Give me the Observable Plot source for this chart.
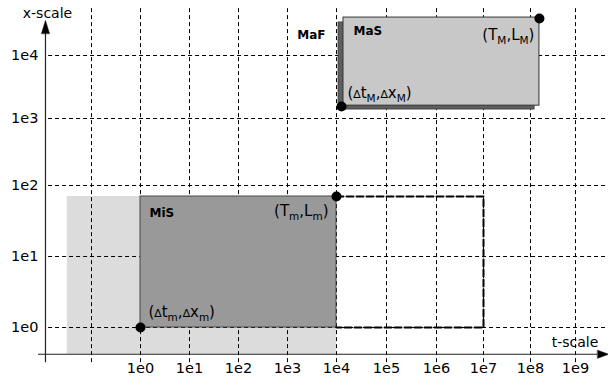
<!DOCTYPE html>
<html><head><meta charset="utf-8">
<script src="https://cdn.jsdelivr.net/npm/d3@7"></script>
<script src="https://cdn.jsdelivr.net/npm/@observablehq/plot@0.6"></script>
<style>body{margin:0;background:#fff} svg{display:block}</style>
</head><body><div id="chart"></div>
<script>
// ---- tick values / labels ----
const xTicks = [1e0, 1e1, 1e2, 1e3, 1e4, 1e5, 1e6, 1e7, 1e8, 1e9];
const xTickLabels = ["1e0","1e1","1e2","1e3","1e4","1e5","1e6","1e7","1e8","1e9"];
const xGrid = [1e-1, 1e0, 1e1, 1e2, 1e3, 1e4, 1e5, 1e6, 1e7, 1e8, 1e9];
const yTicks = [1e0, 1e1, 1e2, 1e3, 1e4];
const yTickLabels = ["1e0","1e1","1e2","1e3","1e4"];

// ---- axis positions (data units) ----
const tOrigin = 0.0115;   // where the x-scale axis crosses the t-scale
const xOrigin = 0.42;     // where the t-scale axis crosses the x-scale
const tAxisStart = 0.0083, tArrowBase = 3.1e9, tArrowTip = 4.6e9;
const xAxisStart = 0.32,  xArrowBase = 22400, xArrowTip = 36000;
const tGridStart = 0.0133, tGridEnd = 5.4e9;
const xGridStart = 0.32,   xGridEnd = 55700;

// ---- regions (t-range, x-range) ----
const zone   = [{t1: 0.032, t2: 1e4,   x1: xOrigin, x2: 70}];
const miS    = [{t1: 1,     t2: 1e4,   x1: 1,       x2: 70}];
const maF    = [{t1: 11000, t2: 1.23e8, x1: 1390,   x2: 33400}];
const maS    = [{t1: 13800, t2: 1.58e8, x1: 1600,   x2: 40000}];
const dashedT = [1e4, 1e7, 1e7, 1e4];
const dashedX = [70, 70, 1, 1];

// ---- characteristic points ----
const pointsT = [1, 1e4, 12600, 1.58e8];
const pointsX = [1, 70, 1550, 38700];

// ---- labels ----
const boxLabels = [
  {t: 11000, x: 33400, text: "MaF", anchor: "end",   dx: -13, dy: 13},
  {t: 13800, x: 40000, text: "MaS", anchor: "start", dx: 10,  dy: 14},
  {t: 1,     x: 70,    text: "MiS", anchor: "start", dx: 9,   dy: 17}
];
const pointLabels = [
  {t: 1.58e8, x: 40000, text: "(T_M,L_M)",   anchor: "end",   dx: -5, dy: 18},
  {t: 13800,  x: 1600,  text: "(∆t_M,∆x_M)", anchor: "start", dx: 4,  dy: -12},
  {t: 1e4,    x: 70,    text: "(T_m,L_m)",   anchor: "end",   dx: -8, dy: 15},
  {t: 1,      x: 1,     text: "(∆t_m,∆x_m)", anchor: "start", dx: 8,  dy: -15}
];

const gridDash = "4,3";
const spike = {draw(ctx, l, r) { ctx.moveTo(-r, 0); ctx.lineTo(0, -l); ctx.lineTo(r, 0); ctx.closePath(); }};

const chart = Plot.plot({
  width: 608, height: 379, margin: 0,
  style: {fontFamily: "DejaVu Sans", background: "white", overflow: "visible"},
  x: {type: "log", domain: xGrid, range: [91, 140, 189, 238, 287, 336, 386, 436, 483, 530, 575], axis: null},
  y: {type: "log", domain: yTicks, range: [327, 256, 185, 118, 55], axis: null},
  marks: [
    Plot.rect(zone, {x1: "t1", x2: "t2", y1: "x1", y2: "x2", fill: "#dcdcdc"}),
    // grid
    Plot.ruleY(yTicks, {y: d => d, x1: () => tGridStart, x2: () => tGridEnd, stroke: "black", strokeWidth: 1, strokeDasharray: gridDash}),
    Plot.ruleX(xGrid, {x: d => d, y1: () => xGridStart, y2: () => xGridEnd, stroke: "black", strokeWidth: 1, strokeDasharray: gridDash}),
    // regions
    Plot.rect(miS, {x1: "t1", x2: "t2", y1: "x1", y2: "x2", fill: "#999999", stroke: "#4a4a4a", strokeWidth: 1}),
    Plot.line(dashedT.map((t, i) => [t, dashedX[i]]), {x: d => d[0], y: d => d[1], stroke: "black", strokeWidth: 2, strokeDasharray: "7,3"}),
    Plot.rect(maF, {x1: "t1", x2: "t2", y1: "x1", y2: "x2", fill: "#5e5e5e", stroke: "#444", strokeWidth: 1}),
    Plot.rect(maS, {x1: "t1", x2: "t2", y1: "x1", y2: "x2", fill: "#c8c8c8", stroke: "#333", strokeWidth: 1}),
    // points
    Plot.dot(pointsT.map((t, i) => [t, pointsX[i]]), {x: d => d[0], y: d => d[1], r: 5, fill: "black"}),
    // labels
    Plot.text(boxLabels, {x: "t", y: "x", text: "text", fontWeight: "bold", fontSize: 12, fill: "black"}),
    Plot.text(pointLabels, {x: "t", y: "x", text: "text", fontSize: 15, fill: "black", textAnchor: "start"}),
    // axes
    Plot.ruleY([xOrigin], {y: d => d, x1: () => tAxisStart, x2: () => tArrowBase, stroke: "#222", strokeWidth: 1.2}),
    Plot.ruleX([tOrigin], {x: d => d, y1: () => xAxisStart, y2: () => xArrowBase, stroke: "#222", strokeWidth: 1.2}),
    Plot.vector([[tArrowBase, xOrigin]], {x: d => d[0], y: d => d[1], length: 11, r: 4, rotate: 90, anchor: "start", shape: spike, fill: "black", stroke: "black", strokeWidth: 0.5}),
    Plot.vector([[tOrigin, xArrowBase]], {x: d => d[0], y: d => d[1], length: 13, r: 4, rotate: 0, anchor: "start", shape: spike, fill: "black", stroke: "black", strokeWidth: 0.5}),
    Plot.text(["x-scale"], {x: () => tOrigin, y: () => xArrowTip, text: d => d, dx: 2, dy: -7, fontSize: 14, fill: "black"}),
    Plot.text(["t-scale"], {x: () => tArrowTip, y: () => xOrigin, text: d => d, dx: -7, dy: -12, textAnchor: "end", fontSize: 14, fill: "black"}),
    Plot.text(xTicks, {x: d => d, y: () => xOrigin, text: (d, i) => xTickLabels[i], dy: 14, fontSize: 14.5, fill: "black"}),
    Plot.text(yTicks, {x: () => tOrigin, y: d => d, text: (d, i) => yTickLabels[i], dx: -7, textAnchor: "end", fontSize: 14.5, fill: "black"})
  ]
});

document.getElementById("chart").appendChild(chart);

// per-label offsets and anchors, plus subscripts / small deltas as tspans
const svg = d3.select(chart);
const ns = "http://www.w3.org/2000/svg";
function applyOffsets(groupIndex, list) {
  const groups = svg.selectAll('g[aria-label="text"]').nodes();
  const g = groups[groupIndex];
  d3.select(g).selectAll("text").each(function(_, i) {
    const d = list[i];
    const tr = this.getAttribute("transform") || "";
    this.setAttribute("transform", tr + ` translate(${d.dx},${d.dy})`);
    this.setAttribute("text-anchor", d.anchor);
  });
}
applyOffsets(0, boxLabels);
applyOffsets(1, pointLabels);

svg.selectAll("text").each(function() {
  const s = this.textContent;
  if (!s.includes("_")) return;
  const tokens = s.split(/(_.|∆)/).filter(p => p);
  this.textContent = "";
  let shift = 0;
  tokens.forEach(p => {
    const ts = document.createElementNS(ns, "tspan");
    let target = 0;
    if (p.startsWith("_")) {
      ts.textContent = p.slice(1);
      ts.setAttribute("font-size", "10.5");
      target = 3.5;
    } else if (p === "∆") {
      ts.textContent = p;
      ts.setAttribute("font-size", "11");
    } else {
      ts.textContent = p;
    }
    if (target !== shift) { ts.setAttribute("dy", String(target - shift)); shift = target; }
    this.appendChild(ts);
  });
});
</script>
</body></html>
